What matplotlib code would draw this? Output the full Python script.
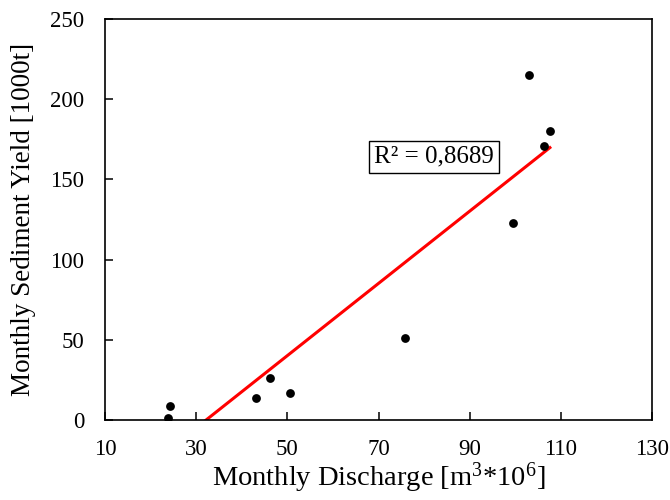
import matplotlib
matplotlib.use("Agg")
import matplotlib.pyplot as plt
import numpy as np

# data
discharge = [23.8, 24.3, 43.1, 46.2, 50.6, 75.8, 99.5, 103.0, 106.3, 107.6]
sediment = [1, 9, 14, 26, 17, 51, 123, 215, 171, 180]
r2_label = "R² = 0,8689"

plt.rcParams['font.family'] = ['Liberation Serif', 'DejaVu Serif']
plt.rcParams['mathtext.fontset'] = 'custom'
plt.rcParams['mathtext.rm'] = 'Liberation Serif'

fig = plt.figure(figsize=(6.7, 5), dpi=100)
ax = fig.add_axes([105/670, 80/500, 547/670, 401/500])

x = np.array(discharge)
y = np.array(sediment)
ax.scatter(x, y, s=40, color='black', zorder=3, linewidths=0)

# linear trendline over the data range
k, b = np.polyfit(x, y, 1)
xs = np.array([x.min(), x.max()])
ax.plot(xs, k*xs + b, color='red', lw=2.2, zorder=2)

ax.text(82.1, 164, r2_label, fontsize=18, ha='center', va='center',
        bbox=dict(boxstyle='square,pad=0.2', fc='white', ec='black', lw=1.0))

ax.set_xlim(10, 130)
ax.set_ylim(0, 250)
ax.set_xticks(range(10, 131, 20))
ax.set_yticks(range(0, 251, 50))
ax.tick_params(direction='in', length=6, width=1.1, labelsize=16.5,
               top=False, right=False)
ax.tick_params(axis='x', pad=14)
ax.tick_params(axis='y', pad=15)
for sp in ax.spines.values():
    sp.set_linewidth(1.2)

ax.set_xlabel(r"Monthly Discharge [m$\mathrm{^3}$*10$\mathrm{^6}$]", fontsize=20.5, labelpad=0)
ax.set_ylabel("Monthly Sediment Yield [1000t]", fontsize=19.5, labelpad=10)

plt.savefig("out.png", dpi=100)
